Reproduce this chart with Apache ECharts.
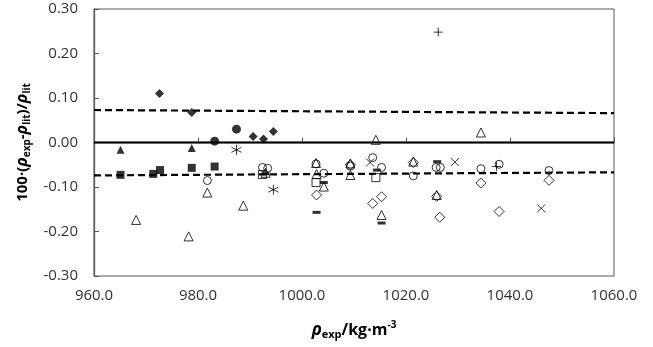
<!DOCTYPE html>
<html>
<head>
<meta charset="utf-8">
<script src="https://cdn.jsdelivr.net/npm/echarts@6/dist/echarts.min.js"></script>
<style>html,body{margin:0;padding:0;background:#fff;}#c{width:653px;height:347px;}</style>
</head>
<body>
<div id="c"></div>
<script>
// ---- data (x = rho_exp in kg/m3, y = 100*(rho_exp-rho_lit)/rho_lit) ----
var filledDiamond = [[972.6,0.110],[978.8,0.0675],[990.6,0.0135],[992.6,0.0076],[994.5,0.025]];
var filledCircle = [[983.2,0.003],[987.4,0.030]];
var filledTriangle = [[965.1,-0.0165],[978.8,-0.0125]];
var filledSquare = [[965.1,-0.0727],[971.4,-0.0705],[972.7,-0.062],[978.8,-0.057],[983.2,-0.054]];
var asterisk = [[987.4,-0.0164],[994.5,-0.106]];
var plusMark = [[1026.2,0.248],[1037.4,-0.054]];
var xMark = [[1013.1,-0.045],[1029.4,-0.044],[1046.0,-0.148]];
var hollowTriangle = [[968.1,-0.174],[978.2,-0.211],[981.8,-0.1125],[988.7,-0.142],[993.0,-0.068],
  [1002.7,-0.046],[1002.8,-0.071],[1004.2,-0.099],[1009.3,-0.047],[1009.3,-0.073],[1014.2,0.006],
  [1015.3,-0.163],[1021.4,-0.043],[1025.9,-0.118],[1034.4,0.0225]];
var hollowCircle = [[981.8,-0.0855],[992.4,-0.056],[993.4,-0.058],[1002.7,-0.048],[1004.2,-0.069],
  [1009.3,-0.053],[1013.6,-0.034],[1015.3,-0.056],[1021.4,-0.075],[1025.8,-0.056],[1026.6,-0.056],
  [1034.4,-0.059],[1037.9,-0.049],[1047.5,-0.063]];
var hollowSquare = [[992.4,-0.072],[1002.7,-0.090],[1014.2,-0.079]];
var hollowDiamond = [[1002.8,-0.118],[1009.3,-0.050],[1013.6,-0.137],[1015.3,-0.122],[1021.4,-0.045],
  [1025.9,-0.121],[1026.5,-0.168],[1034.4,-0.091],[1037.9,-0.155],[1047.5,-0.085]];
var dashMark = [[993.0,-0.070],[1002.8,-0.157],[1004.2,-0.090],[1014.4,-0.062],[1015.3,-0.181],[1026.0,-0.043]];
var zeroLine = [[960,0],[1060,0]];
var upperLimit = [[960,0.073],[1060,0.066]];
var lowerLimit = [[960,-0.074],[1060,-0.067]];

var xMin = 960, xMax = 1060, xStep = 20;
var yMin = -0.3, yMax = 0.3, yStep = 0.1;

var FONT = 'Open Sans';
var chart = echarts.init(document.getElementById('c'), null, {renderer: 'canvas'});

function sc(name, data, symbol, size, filled, extra) {
  var s = {
    type: 'scatter', name: name, data: data, symbol: symbol, symbolSize: size, z: 5,
    itemStyle: filled ? {color: '#000'} : {color: 'rgba(0,0,0,0)', borderColor: '#000', borderWidth: 1}
  };
  if (extra) for (var k in extra) s[k] = extra[k];
  return s;
}
function ln(data, type, width) {
  return {type: 'line', data: data, symbol: 'none', silent: true, z: 2,
    lineStyle: {color: '#000', width: width, type: type}};
}

var axisCol = '#595959';
var option = {
  animation: false,
  backgroundColor: '#fff',
  grid: {left: 94, right: 39, top: 9, bottom: 71, show: true, borderColor: axisCol, borderWidth: 1},
  xAxis: {
    type: 'value', min: xMin, max: xMax, interval: xStep,
    axisLine: {show: true, lineStyle: {color: axisCol, width: 1.3}},
    axisTick: {show: true, inside: true, length: 5, lineStyle: {color: axisCol}},
    splitLine: {show: false},
    axisLabel: {margin: 12, color: '#333', fontFamily: FONT, fontSize: 15,
      formatter: function (v) { return v.toFixed(1); }},
    name: '{r|ρ}{s|exp}{t|/kg·m}{p|-3}',
    nameLocation: 'middle', nameGap: 44,
    nameTextStyle: {
      rich: {
        r: {fontFamily: FONT, fontSize: 17, fontWeight: 'bold', fontStyle: 'italic', color: '#000', lineHeight: 20},
        t: {fontFamily: FONT, fontSize: 16, fontWeight: 'bold', color: '#000', lineHeight: 20},
        s: {fontFamily: FONT, fontSize: 11, fontWeight: 'bold', color: '#000', lineHeight: 10, verticalAlign: 'bottom'},
        p: {fontFamily: FONT, fontSize: 10, fontWeight: 'bold', color: '#000', lineHeight: 10, verticalAlign: 'top'}
      }
    }
  },
  yAxis: {
    type: 'value', min: yMin, max: yMax, interval: yStep,
    axisLine: {show: true, lineStyle: {color: axisCol, width: 1.3}},
    axisTick: {show: true, inside: true, length: 5, lineStyle: {color: axisCol}},
    splitLine: {show: false},
    axisLabel: {margin: 16, color: '#333', fontFamily: FONT, fontSize: 15,
      formatter: function (v) { return v.toFixed(2); }},
    name: '{t|100·(}{r|ρ}{s|exp}{t|-}{r|ρ}{s|lit}{t|)/}{r|ρ}{s|lit}',
    nameLocation: 'middle', nameGap: 53, nameRotate: 90,
    nameTextStyle: {
      rich: {
        r: {fontFamily: FONT, fontSize: 16, fontWeight: 'bold', fontStyle: 'italic', color: '#000', lineHeight: 20},
        t: {fontFamily: FONT, fontSize: 15, fontWeight: 'bold', color: '#000', lineHeight: 20},
        s: {fontFamily: FONT, fontSize: 10, fontWeight: 'bold', color: '#000', lineHeight: 10, verticalAlign: 'bottom'}
      }
    }
  },
  series: [
    ln(zeroLine, 'solid', 2),
    ln(upperLimit, [7, 4], 2.2),
    ln(lowerLimit, [7, 4], 2.2),
    sc('filledDiamond', filledDiamond, 'diamond', 9, true),
    sc('filledCircle', filledCircle, 'circle', 9, true),
    sc('filledTriangle', filledTriangle, 'triangle', 8, true),
    sc('filledSquare', filledSquare, 'rect', 8, true),
    sc('asterisk', asterisk, 'path://M0,-10L0,10M-8.66,-5L8.66,5M-8.66,5L8.66,-5', 10, false),
    sc('plus', plusMark, 'path://M-10,0L10,0M0,-10L0,10', 9, false),
    sc('x', xMark, 'path://M-10,-10L10,10M-10,10L10,-10', 8, false),
    sc('hollowTriangle', hollowTriangle, 'triangle', 9, false),
    sc('hollowCircle', hollowCircle, 'circle', 8, false),
    sc('hollowSquare', hollowSquare, 'rect', 8, false),
    sc('hollowDiamond', hollowDiamond, 'diamond', 10, false),
    sc('dash', dashMark, 'rect', [8, 3], true)
  ]
};
chart.setOption(option);
</script>
</body>
</html>
